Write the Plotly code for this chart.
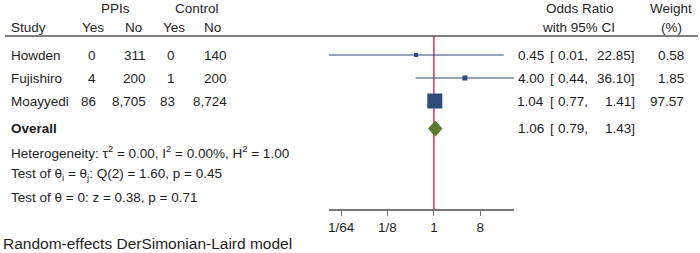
import numpy as np
import plotly.graph_objects as go

# ---------------- data ----------------
studies = ["Howden", "Fujishiro", "Moayyedi"]
ppi_yes = [0, 4, 86]
ppi_no = [311, 200, 8705]
ctl_yes = [0, 1, 83]
ctl_no = [140, 200, 8724]
odds_ratio = [0.45, 4.00, 1.04]
ci_low = [0.0091, 0.44, 0.77]
ci_high = [22.85, 36.10, 1.41]
weight = [0.58, 1.85, 97.57]
overall_or = 1.06
overall_low = 0.79
overall_high = 1.43
tick_vals = [1 / 64, 1 / 8, 1, 8]
tick_text = ["1/64", "1/8", "1", "8"]
het_text = "Heterogeneity: τ<sup>2</sup> = 0.00, I<sup>2</sup> = 0.00%, H<sup>2</sup> = 1.00"
q_text = "Test of θ<sub>i</sub> = θ<sub>j</sub>: Q(2) = 1.60, p = 0.45"
z_text = "Test of θ = 0: z = 0.38, p = 0.71"
model_text = "Random-effects DerSimonian-Laird model"

# ---------------- style ----------------
W, H = 700, 253
FONT = "Liberation Sans, Arial, Helvetica, sans-serif"
TXT = "#1e1e1e"
NAVY = "#2d4a7a"
GREEN = "#58772f"
RED = "#c8174a"
marker_sizes = [4, 5, 15]
FS = 13.5
FS_NOTE = 15.5

def px(x):
    return x / W

def py(y):
    return 1 - y / H

rows = np.arange(1, len(studies) + 1)
overall_row = 4.2
y_range = [7.696, 0.174]

fig = go.Figure()

# no-effect line (behind markers)
fig.add_trace(go.Scatter(x=[0, 0], y=y_range, mode="lines", line=dict(color=RED, width=1.3),
                         showlegend=False, hoverinfo="skip"))
lx = np.log2(ci_low)
hx = np.log2(ci_high)
# CI lines
for i in range(len(studies)):
    fig.add_trace(go.Scatter(x=[lx[i], hx[i]], y=[rows[i], rows[i]], mode="lines",
                             line=dict(color=NAVY, width=1.2), hoverinfo="skip", showlegend=False))
# overall diamond
dh = 0.33
fig.add_trace(go.Scatter(
    x=np.log2([overall_low, overall_or, overall_high, overall_or, overall_low]),
    y=[overall_row, overall_row - dh, overall_row, overall_row + dh, overall_row],
    mode="lines", fill="toself", fillcolor=GREEN, line=dict(color=GREEN, width=1),
    showlegend=False, hoverinfo="skip"))
# point estimates
fig.add_trace(go.Scatter(x=np.log2(odds_ratio), y=rows, mode="markers",
                         marker=dict(symbol="square", size=marker_sizes, color=NAVY, opacity=1,
                                     line=dict(width=0)),
                         showlegend=False, hoverinfo="skip"))

ann = []

def add(text, x, y, xanchor="center", bold=False, size=FS):
    ann.append(dict(text=f"<b>{text}</b>" if bold else text, x=px(x), xref="paper",
                    y=py(y), yref="paper",
                    xanchor=xanchor, yanchor="middle", showarrow=False,
                    font=dict(family=FONT, size=size, color=TXT)))

# headers
add("PPIs", 116, 8)
add("Control", 197, 8)
add("Study", 9, 27, "left")
add("Yes", 93, 27)
add("No", 133, 27)
add("Yes", 174, 27)
add("No", 212, 27)
add("Odds Ratio", 580, 8)
add("with 95% CI", 578, 27)
add("Weight", 671, 8)
add("(%)", 671, 27)

def add_row(text, x, r, xanchor="right", bold=False):
    ann.append(dict(text=f"<b>{text}</b>" if bold else text, x=px(x), xref="paper", y=r, yref="y",
                    xanchor=xanchor, yanchor="middle", showarrow=False,
                    font=dict(family=FONT, size=FS, color=TXT)))

for i, s in enumerate(studies):
    r = rows[i]
    add_row(s, 9, r, "left")
    add_row(f"{ppi_yes[i]:,}", 98, r)
    add_row(f"{ppi_no[i]:,}", 148, r)
    add_row(f"{ctl_yes[i]:,}", 177, r)
    add_row(f"{ctl_no[i]:,}", 229, r)
    add_row(f"{odds_ratio[i]:.2f}", 545.5, r)
    add_row("[", 547.5, r, "left")
    add_row(f"{ci_low[i]:.2f},", 590, r)
    add_row(f"{ci_high[i]:.2f}]", 637, r)
    add_row(f"{weight[i]:.2f}", 686, r)

add_row("Overall", 9, overall_row, "left", bold=True)
add_row(f"{overall_or:.2f}", 545.5, overall_row)
add_row("[", 547.5, overall_row, "left")
add_row(f"{overall_low:.2f},", 590, overall_row)
add_row(f"{overall_high:.2f}]", 637, overall_row)

add(het_text, 9, 152, "left")
add(q_text, 9, 174.5, "left")
add(z_text, 9, 197, "left")
add(model_text, 1, 243, "left", size=FS_NOTE)

fig.update_layout(
    width=W, height=H,
    margin=dict(l=0, r=0, t=0, b=0),
    paper_bgcolor="white", plot_bgcolor="white",
    annotations=ann,
    hovermode=False,
    shapes=[dict(type="line", xref="paper", yref="paper", x0=px(5), x1=px(698), y0=py(36), y1=py(36),
                 line=dict(color="#555555", width=1.5))],
    xaxis=dict(domain=[px(329), px(514)], range=[np.log2(ci_low[0]), np.log2(ci_high[1])],
               tickvals=np.log2(tick_vals), ticktext=tick_text, ticks="outside", ticklen=5,
               tickcolor="#777777", showline=True, linecolor="#777777", linewidth=1.5,
               showgrid=False, zeroline=False, anchor="y",
               tickfont=dict(family=FONT, size=FS, color=TXT)),
    yaxis=dict(domain=[py(209), py(36)], range=y_range, visible=False, showgrid=False, zeroline=False),
)

fig.write_html("out.html", config={"displayModeBar": False},
               post_script="document.body.style.margin='0';")
